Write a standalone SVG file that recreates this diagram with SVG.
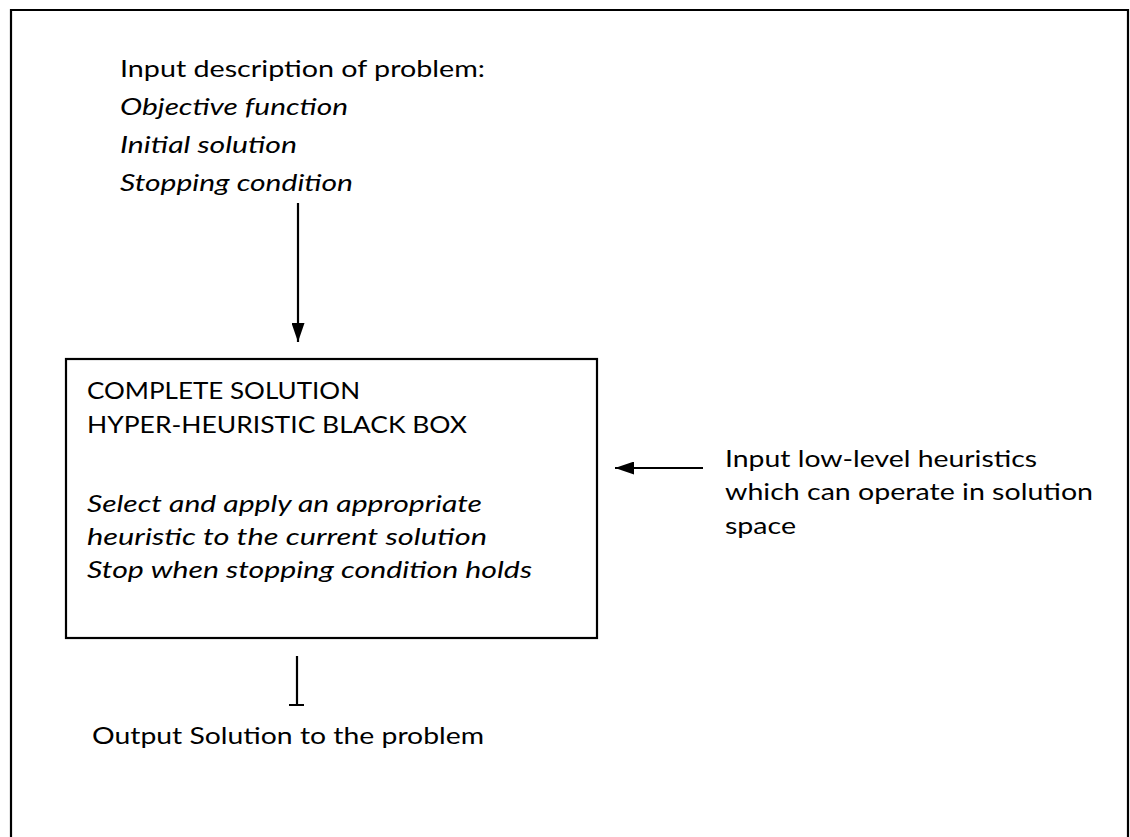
<svg xmlns="http://www.w3.org/2000/svg" width="1130" height="837" viewBox="0 0 1130 837">
<style>
.t{font-family:Lato,"Open Sans","Liberation Sans",sans-serif;font-size:23px;fill:#000}
.i{font-style:italic;font-size:24px}
.ln{stroke:#000;stroke-width:2.2;fill:none}
</style>
<defs>
<marker id="ahd" markerWidth="19" markerHeight="13" refX="19" refY="6.5" orient="auto" viewBox="0 0 19 13" markerUnits="userSpaceOnUse">
<path d="M0,0 L19,6.5 L0,13 Z" fill="#000"/>
</marker>
</defs>
<rect width="1130" height="837" fill="#fff"/>
<path id="frame" class="ln" d="M11,837 V10 H1128 V837"/>
<g id="input">
<text class="t" x="120" y="77" textLength="365" lengthAdjust="spacingAndGlyphs">Input description of problem:</text>
<text class="t i" x="120" y="115" textLength="228" lengthAdjust="spacingAndGlyphs">Objective function</text>
<text class="t i" x="120" y="153" textLength="177" lengthAdjust="spacingAndGlyphs">Initial solution</text>
<text class="t i" x="120" y="191" textLength="233" lengthAdjust="spacingAndGlyphs">Stopping condition</text>
</g>
<g id="blackbox">
<rect class="ln" x="66" y="359" width="531" height="279"/>
<text class="t" x="87" y="399" textLength="273" lengthAdjust="spacingAndGlyphs">COMPLETE SOLUTION</text>
<text class="t" x="87" y="433" textLength="380" lengthAdjust="spacingAndGlyphs">HYPER-HEURISTIC BLACK BOX</text>
<text class="t i" x="87" y="512" textLength="395" lengthAdjust="spacingAndGlyphs">Select and apply an appropriate</text>
<text class="t i" x="87" y="545" textLength="400" lengthAdjust="spacingAndGlyphs">heuristic to the current solution</text>
<text class="t i" x="87" y="578" textLength="445" lengthAdjust="spacingAndGlyphs">Stop when stopping condition holds</text>
</g>
<g id="lowlevel">
<text class="t" x="725" y="467" textLength="312" lengthAdjust="spacingAndGlyphs">Input low-level heuristics</text>
<text class="t" x="725" y="500" textLength="368" lengthAdjust="spacingAndGlyphs">which can operate in solution</text>
<text class="t" x="725" y="534" textLength="71" lengthAdjust="spacingAndGlyphs">space</text>
</g>
<g id="output">
<text class="t" x="92" y="744" textLength="392" lengthAdjust="spacingAndGlyphs">Output Solution to the problem</text>
</g>
<g id="connectors">
<path class="ln" d="M298,203 V342" marker-end="url(#ahd)"/>
<path class="ln" d="M703,468 H615" marker-end="url(#ahd)"/>
<path class="ln" d="M297,656 V705 M289,705 H304"/>
</g>
</svg>
